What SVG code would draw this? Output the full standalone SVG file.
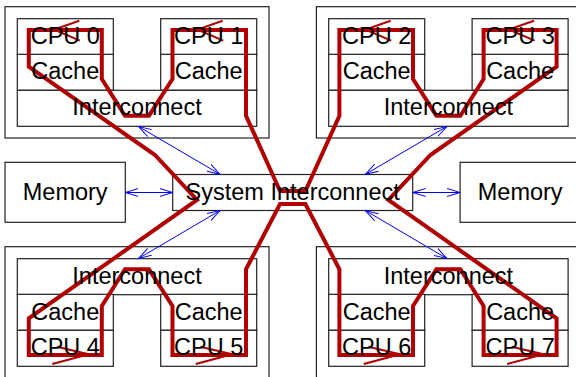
<svg xmlns="http://www.w3.org/2000/svg" width="576" height="377" viewBox="0 0 576 377">
<style>
.b{fill:#fff;stroke:#222;stroke-width:1.2}
.o{fill:none;stroke:#222;stroke-width:1.2}
.t{font-family:"Liberation Sans",Arial,sans-serif;font-size:23.5px;fill:#000;text-anchor:middle}
.r{fill:none;stroke:#b00000;stroke-width:4;stroke-linejoin:miter}
.ra{fill:none;stroke:#b00000;stroke-width:2}
.bl{stroke:#0000ff;stroke-width:1;fill:none;marker-start:url(#ah);marker-end:url(#ah)}
</style>
<defs>
<marker id="ah" viewBox="0 0 14 10" markerWidth="14" markerHeight="10" refX="13" refY="5" orient="auto-start-reverse" markerUnits="userSpaceOnUse">
<path d="M0,1 L13,5 L0,9" fill="none" stroke="#0000ff" stroke-width="1"/>
</marker>
</defs>
<rect width="576" height="377" fill="#fff"/>
<g id="node-shapes">
<g id="quad-tl">
<rect class="o" x="5" y="6.7" width="264" height="131.3"/>
<rect class="b" x="17.3" y="18.7" width="96" height="36"/>
<rect class="b" x="17.3" y="54.3" width="96" height="36"/>
<rect class="b" x="160.7" y="18.7" width="96" height="36"/>
<rect class="b" x="160.7" y="54.3" width="96" height="36"/>
<rect class="b" x="17.3" y="90.3" width="239.4" height="36"/>
</g>
<g id="quad-tr">
<rect class="o" x="316.4" y="6.7" width="264" height="131.3"/>
<rect class="b" x="328.7" y="18.7" width="96" height="36"/>
<rect class="b" x="328.7" y="54.3" width="96" height="36"/>
<rect class="b" x="472.1" y="18.7" width="96" height="36"/>
<rect class="b" x="472.1" y="54.3" width="96" height="36"/>
<rect class="b" x="328.7" y="90.3" width="239.4" height="36"/>
</g>
<g id="quad-bl">
<rect class="o" x="5" y="246.7" width="264" height="131.3"/>
<rect class="b" x="17.3" y="258.7" width="239.4" height="36"/>
<rect class="b" x="17.3" y="294.3" width="96" height="36"/>
<rect class="b" x="17.3" y="330.3" width="96" height="36"/>
<rect class="b" x="160.7" y="294.3" width="96" height="36"/>
<rect class="b" x="160.7" y="330.3" width="96" height="36"/>
</g>
<g id="quad-br">
<rect class="o" x="316.4" y="246.7" width="264" height="131.3"/>
<rect class="b" x="328.7" y="258.7" width="239.4" height="36"/>
<rect class="b" x="328.7" y="294.3" width="96" height="36"/>
<rect class="b" x="328.7" y="330.3" width="96" height="36"/>
<rect class="b" x="472.1" y="294.3" width="96" height="36"/>
<rect class="b" x="472.1" y="330.3" width="96" height="36"/>
</g>
<g id="memory-left"><rect class="b" x="5" y="162.3" width="120.3" height="60"/></g>
<g id="memory-right"><rect class="b" x="460.1" y="162.3" width="120.3" height="60"/></g>
<g id="system-interconnect"><rect class="b" x="172.7" y="174.5" width="240" height="36"/></g>
</g>
<g id="connectors">
<path class="r" d="M28.8,30 L28.8,66.7 L155,155 L197,200 L28.8,318.3 L28.8,355 L101.8,355 L101.8,306 L125,269.3 L149,269.3 L172.5,306 L172.5,355 L246,355 L246,269.3 L280,204 L305.4,204 L339.4,269.3 L339.4,355 L413,355 L413,306 L436.4,269.3 L460.4,269.3 L483.6,306 L483.6,355 L556.6,355 L556.6,318.3 L388.4,200 L430.4,155 L556.6,66.7 L556.6,30 L483.6,30 L483.6,79 L460.4,115.7 L436.4,115.7 L413,79 L413,30 L339.4,30 L339.4,115.7 L305.4,191 L280,191 L246,115.7 L246,30 L172.5,30 L172.5,79 L149,115.7 L125,115.7 L101.8,79 L101.8,30 Z"/>
<polyline class="ra" points="79.3,20.7 54,29.5 79.8,40.7"/>
<polyline class="ra" points="222.7,20.7 197.4,29.5 223.2,40.7"/>
<polyline class="ra" points="390.7,20.7 365.4,29.5 391.2,40.7"/>
<polyline class="ra" points="534.1,20.7 508.8,29.5 534.6,40.7"/>
<polyline class="ra" points="52.3,364 88.8,354.3 56.8,346.7"/>
<polyline class="ra" points="195.7,364 232.2,354.3 200.2,346.7"/>
<polyline class="ra" points="363.7,364 400.2,354.3 368.2,346.7"/>
<polyline class="ra" points="507.1,364 543.6,354.3 511.6,346.7"/>
<line class="bl" x1="125.3" y1="192.5" x2="172.7" y2="192.5"/>
<line class="bl" x1="412.7" y1="192.5" x2="460.1" y2="192.5"/>
<line class="bl" x1="138.5" y1="126.5" x2="220" y2="174.3"/>
<line class="bl" x1="220" y1="210.5" x2="138.5" y2="258.5"/>
<line class="bl" x1="365.4" y1="174.3" x2="446.9" y2="126.5"/>
<line class="bl" x1="365.4" y1="210.5" x2="446.9" y2="258.5"/>
</g>
<g id="labels">
<text class="t" x="65.3" y="43.5">CPU 0</text>
<text class="t" x="208.7" y="43.5">CPU 1</text>
<text class="t" x="376.7" y="43.5">CPU 2</text>
<text class="t" x="520.1" y="43.5">CPU 3</text>
<text class="t" x="65.3" y="79.3">Cache</text>
<text class="t" x="208.7" y="79.3">Cache</text>
<text class="t" x="376.7" y="79.3">Cache</text>
<text class="t" x="520.1" y="79.3">Cache</text>
<text class="t" x="137" y="115.3">Interconnect</text>
<text class="t" x="448.4" y="115.3">Interconnect</text>
<text class="t" x="65.2" y="199.5">Memory</text>
<text class="t" x="520.2" y="199.5">Memory</text>
<text class="t" x="292.7" y="199.5">System Interconnect</text>
<text class="t" x="137" y="283.7">Interconnect</text>
<text class="t" x="448.4" y="283.7">Interconnect</text>
<text class="t" x="65.3" y="319.5">Cache</text>
<text class="t" x="208.7" y="319.5">Cache</text>
<text class="t" x="376.7" y="319.5">Cache</text>
<text class="t" x="520.1" y="319.5">Cache</text>
<text class="t" x="65.3" y="355.3">CPU 4</text>
<text class="t" x="208.7" y="355.3">CPU 5</text>
<text class="t" x="376.7" y="355.3">CPU 6</text>
<text class="t" x="520.1" y="355.3">CPU 7</text>
</g>
</svg>
